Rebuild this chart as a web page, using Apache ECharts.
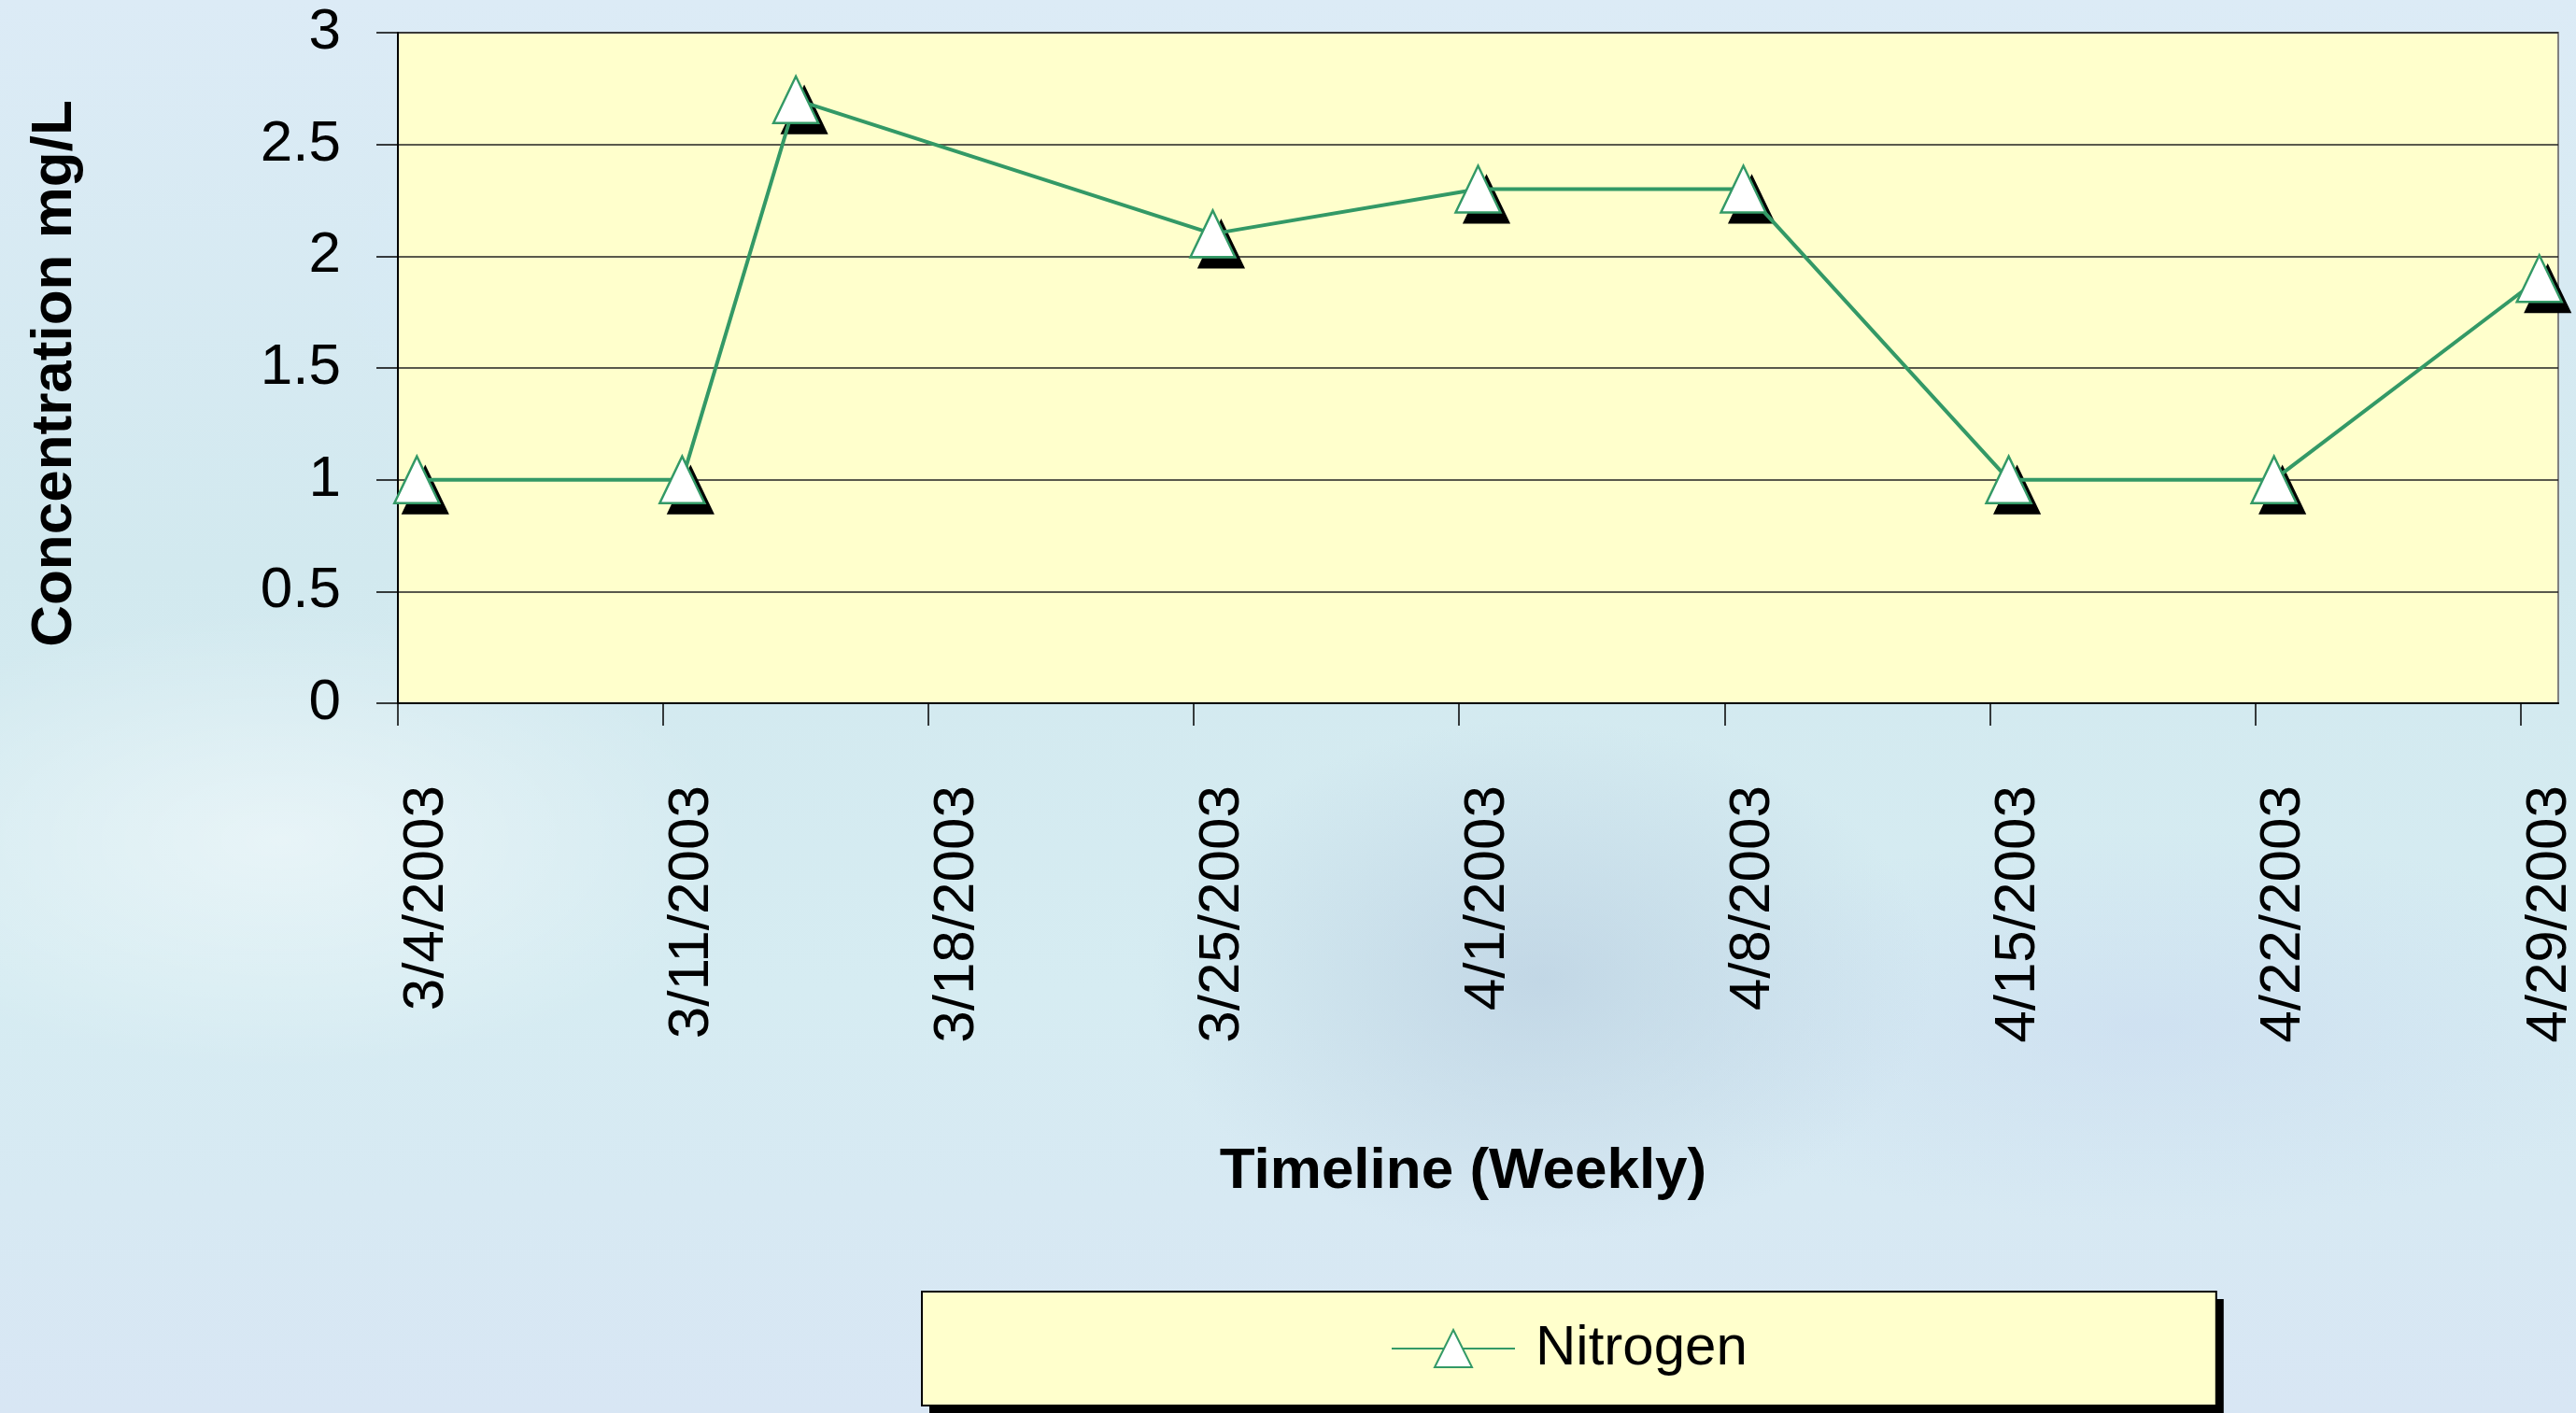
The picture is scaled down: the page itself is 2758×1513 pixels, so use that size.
<!DOCTYPE html>
<html>
<head>
<meta charset="utf-8">
<title>Nitrogen</title>
<script src="https://cdn.jsdelivr.net/npm/echarts@6/dist/echarts.min.js"></script>
<style>
  html, body {
    margin: 0;
    padding: 0;
    width: 2758px;
    height: 1513px;
    overflow: hidden;
  }
  /* watery blue backdrop behind the chart */
  body {
    background:
      radial-gradient(ellipse 700px 350px at 300px 900px, rgba(255, 255, 255, 0.45), rgba(255, 255, 255, 0) 70%),
      radial-gradient(ellipse 600px 400px at 1650px 1050px, rgba(170, 190, 215, 0.45), rgba(170, 190, 215, 0) 70%),
      radial-gradient(ellipse 800px 300px at 2300px 1100px, rgba(200, 215, 240, 0.5), rgba(200, 215, 240, 0) 70%),
      radial-gradient(ellipse 500px 300px at 700px 300px, rgba(215, 235, 255, 0.6), rgba(215, 235, 255, 0) 70%),
      linear-gradient(180deg, #dcebf6 0%, #d2e9ef 40%, #d6ecf2 70%, #d8e6f4 100%);
  }
  #chart {
    width: 2758px;
    height: 1513px;
  }
</style>
</head>
<body>
<div id="chart"></div>
<script>
// 采样日期与氮浓度
const sampleDates = ['2003-03-04', '2003-03-11', '2003-03-14', '2003-03-25', '2003-04-01',
                     '2003-04-08', '2003-04-15', '2003-04-22', '2003-04-29'];
const nitrogen = [1, 1, 2.7, 2.1, 2.3, 2.3, 1, 1, 1.9];

// 横轴刻度（每周一个）
const tickLabels = ['3/4/2003', '3/11/2003', '3/18/2003', '3/25/2003', '4/1/2003',
                    '4/8/2003', '4/15/2003', '4/22/2003', '4/29/2003'];

const DAY = 24 * 3600 * 1000;
const startTime = Date.UTC(2003, 2, 4);
const dayOf = s => {
  const p = s.split('-').map(Number);
  return (Date.UTC(p[0], p[1] - 1, p[2]) - startTime) / DAY;
};
const tickDays = tickLabels.map(s => {
  const p = s.split('/').map(Number);
  return (Date.UTC(p[2], p[0] - 1, p[1]) - startTime) / DAY;
});
// Excel 日期轴：点画在当天的中间
const points = sampleDates.map((d, i) => [dayOf(d) + 0.5, nitrogen[i]]);

const FONT = '"Liberation Sans", Arial, sans-serif';
const GREEN = '#339966';
const MARK = [48, 50];

// 图例：一个画底色+阴影，一个只画黑边框
const legendBase = {
  data: ['Nitrogen'],
  left: 987,
  bottom: 8,
  padding: [31, 502],
  itemWidth: 132,
  itemHeight: 50,
  textStyle: {fontSize: 60, lineHeight: 60, color: '#000', fontFamily: FONT, padding: [0, 0, 0, 17]}
};

const myChart = echarts.init(document.getElementById('chart'));
const option = {
  backgroundColor: 'transparent',
  animation: false,
  textStyle: {fontFamily: FONT},
  grid: {
    left: 426,
    right: 19,
    top: 35,
    bottom: 760,
    outerBoundsMode: 'none',
    show: true,
    backgroundColor: '#FFFFCC',
    borderColor: '#808080',
    borderWidth: 2
  },
  xAxis: {
    type: 'value',
    min: 0,
    max: 57,
    interval: 7,
    name: 'Timeline (Weekly)',
    nameLocation: 'middle',
    nameGap: 471,
    nameTextStyle: {fontSize: 62, fontWeight: 'bold', color: '#000', fontFamily: FONT, padding: [0, 32, 0, 0]},
    axisLine: {show: true, lineStyle: {color: '#000', width: 2}},
    axisTick: {
      show: true,
      length: 24,
      lineStyle: {color: '#000', width: 1.5},
      customValues: tickDays
    },
    axisLabel: {
      rotate: 90,
      margin: 88,
      fontSize: 62,
      color: '#000',
      fontFamily: FONT,
      verticalAlign: 'top',
      customValues: tickDays,
      formatter: v => tickLabels[tickDays.indexOf(Math.round(v))] || ''
    },
    splitLine: {show: false}
  },
  yAxis: {
    type: 'value',
    min: 0,
    max: 3,
    interval: 0.5,
    name: 'Concentration mg/L',
    nameLocation: 'middle',
    nameGap: 336,
    nameTextStyle: {fontSize: 62, fontWeight: 'bold', color: '#000', fontFamily: FONT, padding: [0, 12, 0, 0]},
    axisLine: {show: true, lineStyle: {color: '#000', width: 2}},
    axisTick: {show: true, length: 23, lineStyle: {color: '#000', width: 1.5}},
    axisLabel: {fontSize: 62, color: '#000', margin: 61, fontFamily: FONT},
    splitLine: {show: true, lineStyle: {color: '#222', width: 1.5}}
  },
  legend: [
    Object.assign({}, legendBase, {
      backgroundColor: '#FFFFCC',
      borderWidth: 0,
      shadowColor: '#000',
      shadowBlur: 0,
      shadowOffsetX: 8,
      shadowOffsetY: 8
    }),
    Object.assign({}, legendBase, {
      z: 20,
      backgroundColor: 'transparent',
      borderColor: '#000',
      borderWidth: 2,
      textStyle: Object.assign({}, legendBase.textStyle, {color: 'rgba(0,0,0,0)'}),
      itemStyle: {opacity: 0},
      lineStyle: {opacity: 0}
    })
  ],
  series: [
    {
      // 标记的黑色投影
      name: 'shadow',
      type: 'line',
      data: points,
      symbol: 'triangle',
      symbolSize: MARK,
      symbolOffset: [9, 11],
      lineStyle: {opacity: 0},
      itemStyle: {color: '#000', borderColor: '#000', borderWidth: 2},
      silent: true,
      z: 1
    },
    {
      name: 'Nitrogen',
      type: 'line',
      data: points,
      symbol: 'triangle',
      symbolSize: MARK,
      lineStyle: {color: GREEN, width: 4},
      itemStyle: {color: '#fff', borderColor: GREEN, borderWidth: 2.5},
      z: 2
    }
  ]
};
myChart.setOption(option);
</script>
</body>
</html>
